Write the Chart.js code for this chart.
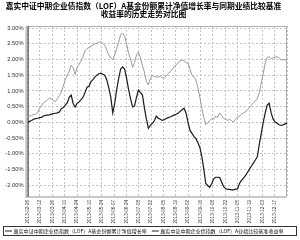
<!DOCTYPE html>
<html><head><meta charset="utf-8">
<script src="https://cdn.jsdelivr.net/npm/chart.js@4/dist/chart.umd.min.js"></script>
<style>html,body{margin:0;padding:0;background:#fff}canvas{display:block}</style>
</head><body>
<canvas id="c" width="300" height="240"></canvas>
<script>
const titleLines = ["嘉实中证中期企业债指数（LOF）A基金份额累计净值增长率与同期业绩比较基准", "收益率的历史走势对比图"];
const seriesNames = ["嘉实中证中期企业债指数（LOF）A基金份额累计净值增长率", "嘉实中证中期企业债指数（LOF）A业绩比较基准收益率"];
const dateLabels = ["2013-02-26","2013-03-12","2013-03-26","2013-04-10","2013-04-24","2013-05-10","2013-05-24","2013-06-07","2013-06-24","2013-07-08","2013-07-22","2013-08-05","2013-08-19","2013-09-02","2013-09-16","2013-10-08","2013-10-22","2013-11-05","2013-11-19","2013-12-03","2013-12-17"];
const yTickValues = [-2.0,-1.5,-1.0,-0.5,0.0,0.5,1.0,1.5,2.0,2.5,3.0];
const fundSeries = [
0.00,0.03,0.06,0.10,0.12,0.13,0.15,0.16,0.20,0.22,
0.23,0.24,0.26,0.28,0.29,0.30,0.33,0.43,0.47,0.55,
0.62,0.80,0.87,0.60,0.49,0.60,0.65,0.72,0.80,0.95,
1.12,1.15,1.30,1.36,1.45,1.50,1.55,1.57,1.53,1.50,
1.35,1.10,0.80,0.30,0.60,1.05,1.40,1.70,1.77,1.70,
1.40,1.05,0.75,0.49,0.52,0.80,1.03,0.95,0.87,0.45,
0.10,-0.19,-0.10,-0.03,0.05,0.20,0.13,0.10,0.06,0.08,
0.12,0.15,0.17,0.20,0.23,0.26,0.29,0.35,0.40,0.45,
0.30,0.00,-0.25,-0.35,-0.45,-0.52,-0.65,-0.80,-1.10,-1.50,
-1.95,-2.02,-2.07,-1.95,-1.80,-1.75,-1.75,-1.76,-1.90,-2.05,
-2.12,-2.14,-2.14,-2.15,-2.15,-2.13,-2.12,-1.95,-1.85,-1.78,
-1.70,-1.60,-1.50,-1.40,-1.30,-1.20,-1.10,-0.70,-0.35,0.00,
0.30,0.55,0.61,0.30,0.10,0.01,-0.03,-0.08,-0.10,-0.08,
-0.05,-0.03];
const benchSeries = [
0.19,0.20,0.22,0.25,0.26,0.30,0.45,0.52,0.62,0.66,
0.72,0.77,0.74,0.70,0.66,0.75,0.85,0.95,1.15,1.35,
1.50,1.62,1.82,1.75,1.52,1.75,1.85,1.95,2.10,2.28,
2.35,2.38,2.42,2.46,2.50,2.52,2.55,2.57,2.52,2.44,
2.30,2.15,2.05,2.00,2.15,2.35,2.55,2.80,2.84,2.74,
2.50,2.20,2.02,1.75,1.90,2.15,2.24,2.05,1.80,1.60,
1.30,1.19,1.40,1.50,1.46,1.45,1.44,1.47,1.42,1.41,
1.48,1.55,1.61,1.68,1.78,1.83,1.90,1.95,1.99,1.96,
1.90,1.89,1.70,1.50,1.45,1.35,1.10,0.80,0.45,0.15,
-0.08,0.00,0.06,0.12,0.10,0.20,0.15,0.30,0.22,0.12,
0.10,0.06,0.10,0.05,0.01,0.10,0.17,0.20,0.26,0.30,
0.33,0.40,0.47,0.55,0.62,0.68,0.75,0.95,1.25,1.55,
1.90,2.07,2.09,2.03,2.06,2.08,2.09,2.05,1.99,2.00,
1.99,1.99];

const xMax = fundSeries.length - 1;
const nIntervals = dateLabels.length; // one extra interval past last label
const toPts = arr => arr.map((v, i) => ({x: i, y: v}));

const framePlugin = {
  id: 'frame',
  beforeDatasetsDraw(chart) {
    const {ctx, chartArea: a} = chart;
    ctx.save();
    ctx.strokeStyle = '#b0b0b0'; ctx.lineWidth = 1;
    ctx.strokeRect(a.left + 0.5, a.top + 0.5, a.right - a.left - 1, a.bottom - a.top - 1);
    ctx.strokeStyle = '#c8c8c8'; ctx.lineWidth = 2;
    ctx.beginPath(); ctx.moveTo(a.left, a.bottom); ctx.lineTo(a.right, a.bottom); ctx.stroke();
    ctx.strokeStyle = '#444'; ctx.lineWidth = 1;
    ctx.beginPath(); ctx.moveTo(a.left + 0.5, a.top); ctx.lineTo(a.left + 0.5, a.bottom); ctx.stroke();
    ctx.strokeStyle = '#999';
    ctx.beginPath(); ctx.moveTo(a.left - 1.5, a.top); ctx.lineTo(a.left - 1.5, a.bottom + 1); ctx.stroke();
    ctx.restore();
  }
};

const legendBoxPlugin = {
  id: 'legendBox',
  afterDraw(chart) {
    const {ctx} = chart;
    const top = 226.5, bottom = 235.5, left = 3.5, right = 296.5;
    const cy = (top + bottom) / 2;
    ctx.save();
    ctx.strokeStyle = '#333'; ctx.lineWidth = 1;
    ctx.strokeRect(left, top, right - left, bottom - top);
    ctx.font = '5.05px "Noto Sans CJK SC"';
    ctx.textBaseline = 'middle';
    ctx.fillStyle = '#111';
    let x = 5;
    chart.data.datasets.forEach((ds, i) => {
      ctx.strokeStyle = '#222'; ctx.lineWidth = 1;
      ctx.beginPath(); ctx.moveTo(x, cy); ctx.lineTo(x + 7, cy); ctx.stroke();
      x += 8.5;
      ctx.fillText(ds.label, x, cy);
      x += ctx.measureText(ds.label).width + 5;
    });
    ctx.restore();
  }
};

new Chart(document.getElementById('c'), {
  type: 'line',
  data: {
    datasets: [
      {label: seriesNames[0], data: toPts(fundSeries), borderColor: '#1a1a1a', borderWidth: 1.2, pointRadius: 0, tension: 0},
      {label: seriesNames[1], data: toPts(benchSeries), borderColor: '#9a9a9a', borderWidth: 1, pointRadius: 0, tension: 0}
    ]
  },
  options: {
    responsive: false,
    animation: false,
    devicePixelRatio: 1,
    layout: {padding: {left: 0, right: 13, top: 0, bottom: 15}},
    plugins: {
      legend: {display: false},
      tooltip: {enabled: false},
      title: {
        display: true, text: titleLines, color: '#000',
        font: {family: '"Noto Sans CJK SC"', size: 7.75, weight: 'bold', lineHeight: 1.0},
        padding: {top: 2.5, bottom: 8}
      }
    },
    scales: {
      x: {
        type: 'linear', min: 0, max: xMax,
        afterBuildTicks: s => { s.ticks = Array.from({length: nIntervals + 1}, (_, k) => ({value: k * xMax / nIntervals})); },
        afterFit: s => { s.height = 28; },
        grid: {color: '#c4c4c4', lineWidth: 1, drawTicks: false},
        border: {display: false, dash: [2, 2]},
        ticks: {
          autoSkip: false, minRotation: 90, maxRotation: 90, padding: 3, color: '#333',
          font: {family: '"Liberation Sans"', size: 4.6},
          callback: (v, i) => dateLabels[i] !== undefined ? dateLabels[i] : ''
        }
      },
      y: {
        min: -2.38, max: 3.07,
        afterBuildTicks: s => { s.ticks = yTickValues.map(v => ({value: v})); },
        afterFit: s => { s.width = 27.6; },
        grid: {color: '#c4c4c4', lineWidth: 1, drawTicks: false},
        border: {display: false, dash: [2, 2]},
        ticks: {
          padding: 4, color: '#333',
          font: {family: '"Liberation Sans"', size: 5.8},
          callback: v => v.toFixed(2) + '%'
        }
      }
    }
  },
  plugins: [framePlugin, legendBoxPlugin]
});
</script>
</body></html>
